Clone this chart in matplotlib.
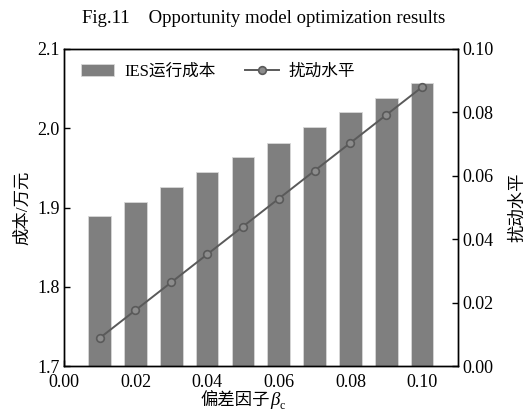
import matplotlib.pyplot as plt

plt.rcParams['font.family'] = ['Liberation Serif', 'Noto Sans CJK SC']

beta = [0.01, 0.02, 0.03, 0.04, 0.05, 0.06, 0.07, 0.08, 0.09, 0.10]
cost = [1.889, 1.907, 1.926, 1.945, 1.964, 1.982, 2.001, 2.020, 2.038, 2.057]
disturb = [0.0088, 0.0176, 0.0264, 0.0352, 0.0440, 0.0528, 0.0616, 0.0704, 0.0792, 0.0880]

xticks = [0.00, 0.02, 0.04, 0.06, 0.08, 0.10]
yticks_left = [1.7, 1.8, 1.9, 2.0, 2.1]
yticks_right = [0.00, 0.02, 0.04, 0.06, 0.08, 0.10]

fig = plt.figure(figsize=(5.27, 4.15), dpi=100)
ax = fig.add_axes([0.121, 0.118, 0.748, 0.764])
ax2 = ax.twinx()

bars = ax.bar(beta, cost, width=0.0063, color='#7f7f7f', edgecolor='#d8d8d8',
              linewidth=0.6, zorder=2)
ax.set_ylim(1.7, 2.1)
ax.set_xlim(0, 0.11)
ax.set_xticks(xticks)
ax.set_xticklabels(['%.2f' % v for v in xticks])
ax.set_yticks(yticks_left)
ax.set_yticklabels(['%.1f' % v for v in yticks_left])

line, = ax2.plot(beta, disturb, color='#5a5a5a', lw=1.4, marker='o', ms=5.5,
                 mfc='#8c8c8c', mec='#5a5a5a', mew=1.2, zorder=3)
ax2.set_ylim(0, 0.10)
ax2.set_yticks(yticks_right)
ax2.set_yticklabels(['%.2f' % v for v in yticks_right])

for a in (ax, ax2):
    a.tick_params(direction='in', labelsize=13, length=4, width=1, pad=3)
    for s in a.spines.values():
        s.set_linewidth(1.0)
ax.tick_params(axis='x', pad=6)
ax.tick_params(top=False)

ax.set_ylabel('成本/万元', fontsize=12.5, labelpad=4)
ax2.set_ylabel('扰动水平', fontsize=12.5, labelpad=12)

# x label: Chinese text + italic beta, subscript c added after measuring
x0 = 0.513
xl = fig.text(x0, 0.015, '偏差因子', ha='right', va='bottom', fontsize=12.5)
bt = fig.text(x0, 0.015, 'β', ha='left', va='bottom', fontsize=13.5,
              style='italic', family='Liberation Serif')
fig.canvas.draw()
r = fig.canvas.get_renderer()
bb2 = bt.get_window_extent(r)
fig.text(bb2.x1 / fig.bbox.width, 0.008, 'c', ha='left', va='bottom',
         fontsize=8.5, family='Liberation Serif')

ax.legend([bars, line], ['IES运行成本', '扰动水平'], loc='upper left', ncol=2,
          frameon=False, fontsize=12, handlelength=2.0, handletextpad=0.6,
          columnspacing=1.8, bbox_to_anchor=(0.005, 1.0))

fig.text(0.5, 0.955, 'Fig.11    Opportunity model optimization results',
         ha='center', va='center', fontsize=13.5)

fig.savefig('out.png', dpi=100)
